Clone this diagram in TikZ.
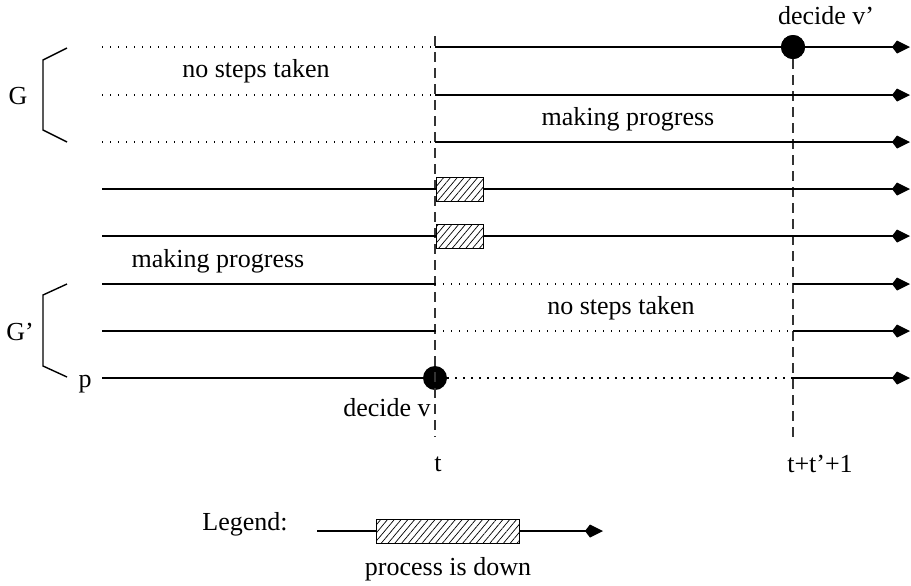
\documentclass[tikz,border=0pt]{standalone}
\usepackage{fontspec}
\setmainfont{Liberation Serif}
\usetikzlibrary{arrows.meta,patterns.meta}

\begin{document}
\begin{tikzpicture}[
  x=0.5pt,y=-0.5pt,
  font=\fontsize{13}{15}\selectfont,
  run/.style={line width=0.7pt},
  idle/.style={line width=0.7pt,dash pattern=on 0.7pt off 3.3pt},
  arr/.style={-{Kite[length=9pt,width=6.5pt,inset=2.5pt]}},
  timeline/.style={line width=0.6pt,dash pattern=on 5pt off 3pt,draw=black!80},
  decide/.style={circle,fill=black,inner sep=0pt,minimum size=12pt},
  down/.style={draw,line width=0.5pt,inner sep=0pt,minimum height=12pt,
               preaction={fill=white},
               pattern={Lines[angle=50,distance=2.6pt,line width=0.35pt]}},
  lbl/.style={inner sep=0pt},
  brace/.style={line width=0.7pt}
]
\useasboundingbox (0,0) rectangle (911,585);
% ---------- rows and time marks ----------
\coordinate (r1) at (102,47);
\coordinate (r2) at (102,95);
\coordinate (r3) at (102,142);
\coordinate (r4) at (102,189);
\coordinate (r5) at (102,236);
\coordinate (r6) at (102,284);
\coordinate (r7) at (102,331);
\coordinate (r8) at (102,378);
\coordinate (tT) at (435,36);
\coordinate (tB) at (435,437);
\coordinate (uB) at (793,437);
\coordinate (end) at (910,47);
\node[decide] (dv2) at (793,47) {};
\node[decide] (dv1) at (r8 -| tT) {};
\draw[timeline] (tT) -- (tB);
\draw[timeline] (dv2) -- (uB);
\node[lbl] (tlab) at (438,464) {t};
\node[lbl] (ulab) at (820,464) {t+t'+1};
% ---------- group G ----------
\draw[idle] (r1) -- (r1 -| tT);
\draw[run,arr] (r1 -| tT) -- (r1 -| end);
\draw[idle] (r2) -- (r2 -| tT);
\draw[run,arr] (r2 -| tT) -- (r2 -| end);
\draw[idle] (r3) -- (r3 -| tT);
\draw[run,arr] (r3 -| tT) -- (r3 -| end);
\node[decide] at (dv2) {};
\node[lbl] (dec2) at (826,16) {decide v'};
\node[lbl] (ns1) at (256,71) {no steps taken};
\node[lbl] (mp1) at (628,119) {making progress};
\node[lbl] (g1) at (18,96) {G};
\draw[brace] (67,48) -- (43,60) -- (43,130) -- (67,142);
% ---------- processes that are down ----------
\node[down,minimum width=23.5pt] (down1) at (459.5,189) {};
\node[down,minimum width=23.5pt] (down2) at (459.5,236) {};
\draw[run] (r4) -- (down1);
\draw[run,arr] (down1) -- (r4 -| end);
\draw[run] (r5) -- (down2);
\draw[run,arr] (down2) -- (r5 -| end);
% ---------- group G' ----------
\draw[run] (r6) -- (r6 -| tT);
\draw[idle] (r6 -| tT) -- (r6 -| uB);
\draw[run,arr] (r6 -| uB) -- (r6 -| end);
\draw[run] (r7) -- (r7 -| tT);
\draw[idle] (r7 -| tT) -- (r7 -| uB);
\draw[run,arr] (r7 -| uB) -- (r7 -| end);
\draw[run] (r8) -- (dv1);
\draw[idle] (dv1) -- (r8 -| uB);
\draw[run,arr] (r8 -| uB) -- (r8 -| end);
\node[lbl] (mp2) at (218,261) {making progress};
\node[lbl] (ns2) at (621,308) {no steps taken};
\node[lbl,anchor=east] (dec1) at (431,408) {decide v};
\node[lbl] (g2) at (20,332) {G'};
\node[lbl] (plab) at (85,384) {p};
\draw[brace] (67,284) -- (43,295) -- (43,366) -- (67,377);
% ---------- legend ----------
\node[lbl,anchor=east] (legend) at (288,524) {Legend:};
\coordinate (l0) at (317,531);
\coordinate (l1) at (603,531);
\node[down,minimum width=71.5pt] (lbox) at (447.5,531) {};
\draw[run] (l0) -- (lbox);
\draw[run,arr] (lbox) -- (l1);
\node[lbl] (ldesc) at (448,569) {process is down};
\end{tikzpicture}
\end{document}
